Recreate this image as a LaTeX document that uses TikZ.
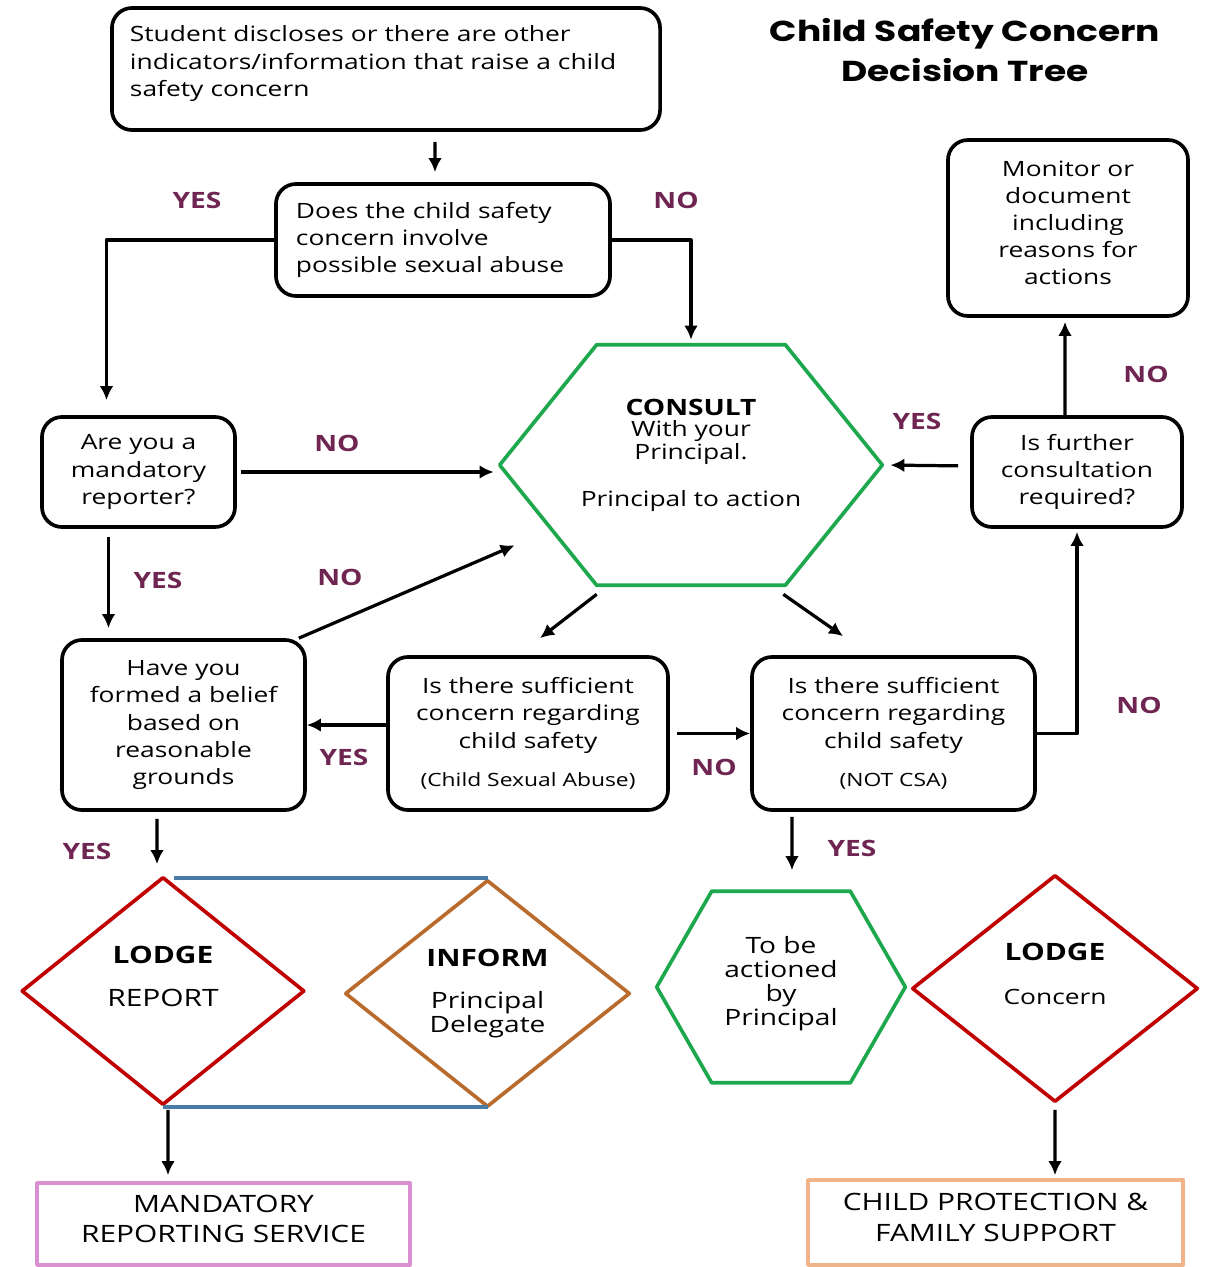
\documentclass[tikz,border=0pt]{standalone}
\usepackage{fontspec}
\setmainfont{Open Sans}[FakeStretch=1.25]
\newfontfamily\titlefont{Poppins}[FakeStretch=1.25]
\usepackage{tikz}
\usetikzlibrary{shapes,arrows.meta,calc}
\definecolor{yesno}{RGB}{111,37,82}
\definecolor{hexgreen}{RGB}{30,168,78}
\definecolor{lodgered}{RGB}{192,0,0}
\definecolor{informbrown}{RGB}{184,107,44}
\definecolor{linkblue}{RGB}{74,123,167}
\definecolor{mrspink}{RGB}{218,143,208}
\definecolor{cpfsorange}{RGB}{240,179,138}
% hexagon round a node: name, depth of the points, draw options
\newcommand{\hexdraw}[3]{%
  \draw[#3] (#1.west) -- ([xshift=#2]#1.north west) -- ([xshift=-#2]#1.north east)
    -- (#1.east) -- ([xshift=-#2]#1.south east) -- ([xshift=#2]#1.south west) -- cycle;}

\begin{document}
\begin{tikzpicture}[x=0.025cm, y=-0.025cm, line join=round,
  box/.style={draw, rounded corners=0.5cm, line width=2.6pt, align=center, inner sep=0pt, font=\fontsize{15}{19.3}\selectfont},
  ans/.style={text=yesno, font=\bfseries\fontsize{16}{18}\selectfont},
  arr/.style={-{Latex[length=0.35cm,width=0.34cm]}, line width=2.3pt},
  diam/.style={diamond, draw, line width=2.6pt, align=center, inner sep=0pt},
  outbox/.style={draw, line width=2.6pt, align=center, inner sep=0pt, font=\fontsize{17}{21.5}\selectfont}]
\useasboundingbox (0,0) rectangle (1212,1267);

% title
\node[font=\titlefont\bfseries\fontsize{20.5}{29}\selectfont, align=center] (title) at (965,50) {Child Safety Concern\\ Decision Tree};

% question boxes
\node[box, minimum width=13.7cm, minimum height=3.05cm, text width=12.8cm, align=left] (start) at (386,69) {Student discloses or there are other\\ indicators/information that raise a child\\ safety concern\\[-8pt]\mbox{}};
\node[box, minimum width=8.35cm, minimum height=2.8cm, text width=7.35cm, align=left] (q1) at (443,240) {Does the child safety\\ concern involve\\ possible sexual abuse};
\node[box, minimum width=4.825cm, minimum height=2.75cm] (mand) at (138.5,472) {Are you a\\ mandatory\\ reporter?};
\node[box, minimum width=6.075cm, minimum height=4.25cm] (belief) at (183.5,725) {Have you\\ formed a belief\\ based on\\ reasonable\\ grounds};
\node[box, minimum width=7cm, minimum height=3.825cm] (csa) at (528,733.5) {Is there sufficient\\ concern regarding\\ child safety\\[8pt] {\fontsize{13}{16}\selectfont (Child Sexual Abuse)}};
\node[box, minimum width=7.075cm, minimum height=3.825cm] (notcsa) at (893.5,733.5) {Is there sufficient\\ concern regarding\\ child safety\\[8pt] {\fontsize{13}{16}\selectfont (NOT CSA)}};
\node[box, minimum width=5.25cm, minimum height=2.75cm] (further) at (1077,472) {Is further\\ consultation\\ required?};
\node[box, minimum width=6cm, minimum height=4.4cm] (monitor) at (1068,228) {Monitor or\\ document\\ including\\ reasons for\\ actions\\[-12pt]\mbox{}};

% hexagons
\node[minimum width=9.55cm, minimum height=6cm, align=center, font=\fontsize{15}{16.3}\selectfont] (consult) at (691,465) {{\bfseries\fontsize{16}{18}\selectfont CONSULT}\\[-1pt] With your\\ Principal.\\[17pt] Principal to action\\[1pt]\mbox{}};
\hexdraw{consult}{2.425cm}{hexgreen, line width=2.6pt}
\node[minimum width=6.2cm, minimum height=4.775cm, align=center, font=\fontsize{16}{17}\selectfont] (action) at (781,987) {To be\\ actioned\\ by\\ Principal\\[-8pt]\mbox{}};
\hexdraw{action}{1.375cm}{hexgreen, line width=2.6pt}

% diamonds
\node[diam, lodgered, minimum width=7.075cm, minimum height=5.7cm, text=black, font=\fontsize{17}{31}\selectfont] (lodge) at (163,991) {{\bfseries LODGE}\\ REPORT\\[-10pt]\mbox{}};
\node[diam, informbrown, minimum width=7.125cm, minimum height=5.675cm, text=black, font=\fontsize{16}{15.6}\selectfont] (inform) at (487.5,993.5) {{\bfseries\fontsize{17}{18}\selectfont INFORM}\\[14pt] Principal\\ Delegate};
\node[diam, lodgered, minimum width=7.15cm, minimum height=5.675cm, text=black, font=\fontsize{17}{31}\selectfont] (concern) at (1055,988.5) {{\bfseries LODGE}\\ {\fontsize{15}{18}\selectfont Concern}\\[-10pt]\mbox{}};

% services
\node[outbox, mrspink, text=black, minimum width=9.325cm, minimum height=2.05cm] (mrs) at (223.5,1224) {MANDATORY\\ REPORTING SERVICE\\[-14pt]\mbox{}};
\node[outbox, cpfsorange, text=black, minimum width=9.375cm, minimum height=2.125cm] (cpfs) at (995.5,1222.5) {CHILD PROTECTION \&\\ FAMILY SUPPORT\\[-14pt]\mbox{}};

% yes / no
\node[ans] (yes1) at (197,200) {YES};
\node[ans] (no1) at (676,200) {NO};
\node[ans] (no2) at (337,443) {NO};
\node[ans] (yes2) at (158,580) {YES};
\node[ans] (no3) at (340,577) {NO};
\node[ans] (yes3) at (344,757) {YES};
\node[ans] (no4) at (714,767) {NO};
\node[ans] (yes4) at (917,421) {YES};
\node[ans] (no5) at (1146,374) {NO};
\node[ans] (no6) at (1139,705) {NO};
\node[ans] (yes5) at (87,851) {YES};
\node[ans] (yes6) at (852,848) {YES};

% connectors
\draw[arr, shorten <=0.25cm, shorten >=0.25cm] ([xshift=1.225cm]start.south) -- ([xshift=-0.2cm]q1.north);
\draw[arr, shorten >=0.375cm] (q1.west) -| ([xshift=-0.8cm]mand.north);
\draw[arr, shorten >=0.125cm] (q1.east) -| (consult.north);
\draw[arr, shorten <=0.1cm, shorten >=0.15cm] (mand.east) -- (mand.east -| consult.west);
\draw[arr, shorten <=0.2cm, shorten >=0.25cm] ([xshift=-0.75cm]mand.south) -- ([xshift=-0.75cm]mand.south |- belief.north);
\draw[arr] ([xshift=-0.2cm]belief.north east) -- ([shift={(0.375cm,1cm)}]consult.south west);
\draw[arr] (csa.west |- belief.east) -- (belief.east);
\draw[arr, shorten <=0.175cm] (csa.east) -- (notcsa.west);
\draw[arr] ([shift={(2.425cm,-0.225cm)}]consult.south west) -- ([shift={(0.3cm,0.425cm)}]csa.north);
\draw[arr] ([shift={(-2.475cm,-0.225cm)}]consult.south east) -- ([shift={(-1.26cm,0.475cm)}]notcsa.north);
\draw[arr, shorten >=0.075cm] (notcsa.east) -| (further.south);
\draw[arr, shorten <=0.125cm, shorten >=0.525cm] ([xshift=-2.54cm]notcsa.south) -- ([xshift=0.275cm]action.north);
\draw[arr, shorten <=0.3cm, shorten >=0.2cm] ([yshift=0.15cm]further.west) -- (consult.east);
\draw[arr, shorten >=0.1cm] ([xshift=-0.3cm]further.north) -- ([xshift=-0.075cm]monitor.south);
\draw[arr, shorten <=0.175cm, shorten >=0.275cm] ([xshift=-0.6625cm]belief.south) -- ([xshift=-0.15cm]lodge.north);
\draw[linkblue, line width=2.4pt, shorten <=0.275cm] (inform.north -| lodge.north) -- (inform.north);
\draw[linkblue, line width=2.4pt] (lodge.south) -- (lodge.south -| inform.south);
\draw[arr, shorten <=0.075cm, shorten >=0.15cm] ([xshift=0.125cm]lodge.south) -- ([xshift=-1.3875cm]mrs.north);
\draw[arr, shorten <=0.15cm, shorten >=0.075cm] (concern.south) -- ([xshift=1.4875cm]cpfs.north);
\end{tikzpicture}
\end{document}
